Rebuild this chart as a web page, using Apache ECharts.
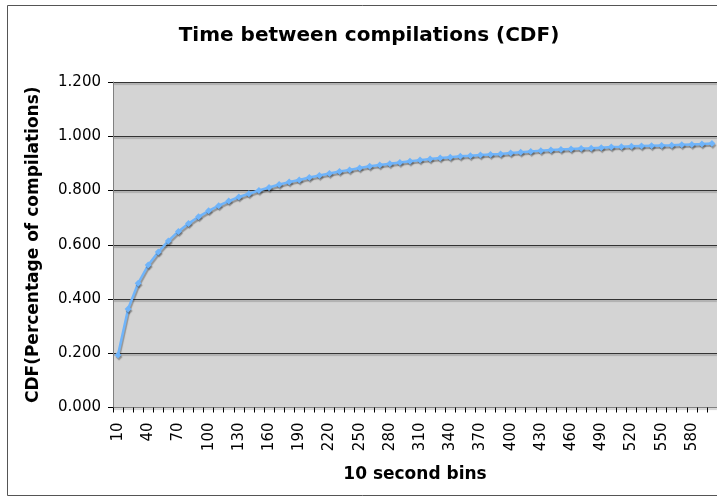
<!DOCTYPE html>
<html>
<head>
<meta charset="utf-8">
<script src="https://cdn.jsdelivr.net/npm/echarts@6/dist/echarts.min.js"></script>
<style>html,body{margin:0;padding:0;background:#fff}#c{width:717px;height:496px}</style>
</head>
<body>
<div id="c"></div>
<script>
var titleText = 'Time between compilations (CDF)';
var xName = '10 second bins';
var yName = 'CDF(Percentage of compilations)';
var categories = [];
for (var k = 1; k <= 60; k++) categories.push(String(k * 10));
var cdfValues = [
  0.194, 0.363, 0.458, 0.525, 0.573, 0.614, 0.649, 0.678, 0.703, 0.725,
  0.744, 0.761, 0.776, 0.788, 0.800, 0.811, 0.822, 0.831, 0.839, 0.848,
  0.855, 0.863, 0.870, 0.876, 0.883, 0.889, 0.894, 0.899, 0.903, 0.908,
  0.912, 0.916, 0.920, 0.923, 0.926, 0.928, 0.931, 0.933, 0.935, 0.938,
  0.941, 0.944, 0.947, 0.949, 0.951, 0.953, 0.955, 0.956, 0.958, 0.960,
  0.961, 0.963, 0.964, 0.965, 0.966, 0.967, 0.969, 0.970, 0.971, 0.973
];
var yTicks = { min: 0, max: 1.2, interval: 0.2 };

var chart = echarts.init(document.getElementById('c'), null, { renderer: 'canvas' });
var font = 'DejaVu Sans';
chart.setOption({
  animation: false,
  backgroundColor: '#fff',
  graphic: [{
    type: 'rect', left: 5, top: 3, silent: true,
    shape: { x: 0, y: 0, width: 730, height: 490 },
    style: { fill: 'none', stroke: '#555', lineWidth: 1 }
  }],
  title: {
    text: titleText, left: 364, top: 21, textAlign: 'center',
    textStyle: { fontFamily: font, fontWeight: 'bold', fontSize: 20, color: '#000' }
  },
  grid: {
    left: 113, top: 82, width: 606, height: 325.5,
    show: true, backgroundColor: '#D4D4D4', borderWidth: 0, containLabel: false
  },
  xAxis: {
    type: 'category', data: categories, boundaryGap: true,
    name: xName, nameLocation: 'middle', nameGap: 59,
    nameTextStyle: { fontFamily: font, fontWeight: 'bold', fontSize: 17, color: '#000', verticalAlign: 'top' },
    axisLine: { show: true, lineStyle: { color: '#808080', width: 1 } },
    axisTick: { show: true, interval: 0, length: 5, inside: false, lineStyle: { color: '#000' } },
    axisLabel: { interval: 2, rotate: 90, margin: 15, fontFamily: font, fontSize: 15, color: '#000' },
    splitLine: { show: false }
  },
  yAxis: {
    type: 'value', min: yTicks.min, max: yTicks.max, interval: yTicks.interval,
    name: yName, nameLocation: 'middle', nameGap: 71,
    nameTextStyle: { fontFamily: font, fontWeight: 'bold', fontSize: 17, color: '#000' },
    axisLine: { show: true, lineStyle: { color: '#808080', width: 1 } },
    axisTick: { show: true, length: 5, lineStyle: { color: '#000' } },
    axisLabel: { margin: 12, fontFamily: font, fontSize: 15, color: '#000',
      formatter: function (v) { return v.toFixed(3); } },
    splitLine: { show: true, lineStyle: { color: '#333', width: 1, shadowColor: 'rgba(0,0,0,0.35)', shadowOffsetY: 1.5, shadowBlur: 1 } }
  },
  series: [{
    type: 'line', data: cdfValues,
    symbol: 'diamond', symbolSize: 7, showSymbol: true, showAllSymbol: true,
    lineStyle: { color: '#6FB4FA', width: 2.5, shadowColor: 'rgba(0,0,0,0.3)', shadowOffsetY: 2, shadowOffsetX: 1, shadowBlur: 1 },
    itemStyle: { color: '#6FB4FA', borderWidth: 0, shadowColor: 'rgba(0,0,0,0.3)', shadowOffsetY: 2, shadowOffsetX: 1, shadowBlur: 1 }
  }]
});
</script>
</body>
</html>
